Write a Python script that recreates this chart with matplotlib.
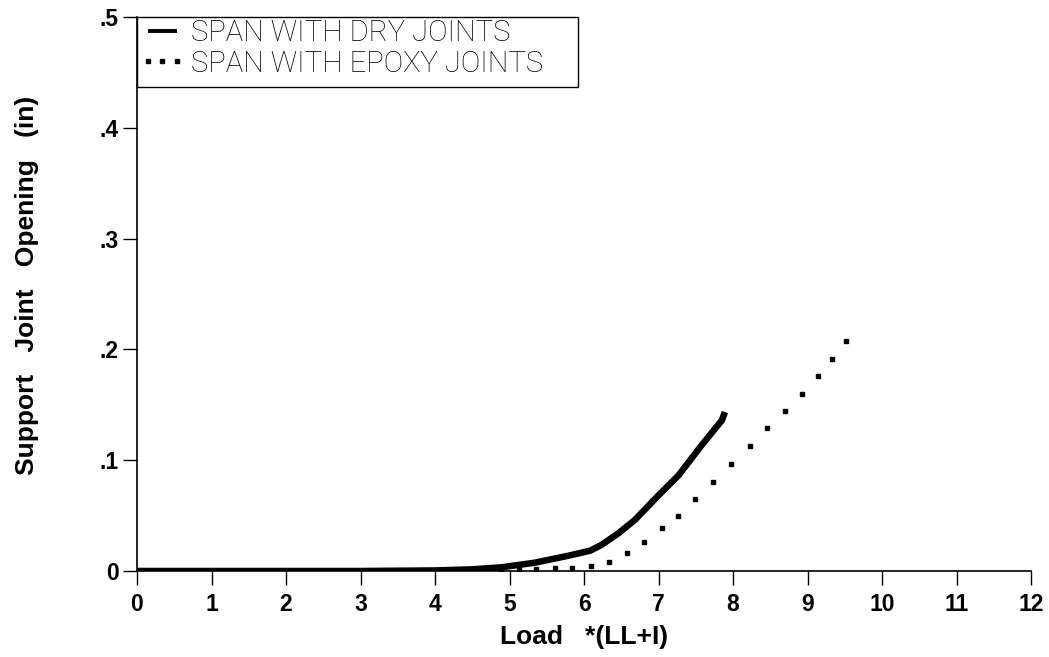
import matplotlib
matplotlib.use("Agg")
import matplotlib.pyplot as plt
from matplotlib.patches import Rectangle

# Span with dry joints (solid curve)
dry_load = [0.0, 1.0, 2.0, 3.0, 4.0, 4.5, 4.89, 5.34, 5.79, 6.08, 6.23, 6.46,
            6.68, 6.98, 7.27, 7.56, 7.74, 7.85, 7.89]
dry_open = [0.0, 0.0, 0.0, 0.0, 0.0005, 0.0015, 0.0033, 0.0075, 0.0138, 0.0183,
            0.0234, 0.034, 0.046, 0.067, 0.0865, 0.112, 0.127, 0.136, 0.1435]

# Span with epoxy joints (dotted markers)
epoxy_load = [4.88, 5.12, 5.36, 5.61, 5.84, 6.09, 6.33, 6.57, 6.81, 7.05, 7.26,
              7.49, 7.73, 7.97, 8.22, 8.46, 8.69, 8.92, 9.14, 9.33, 9.51]
epoxy_open = [0.0005, 0.001, 0.002, 0.0024, 0.0024, 0.0045, 0.0084, 0.016, 0.026,
              0.0385, 0.050, 0.0646, 0.0805, 0.0967, 0.1126, 0.1286, 0.144, 0.160,
              0.1757, 0.191, 0.2075]

x_ticks = [0, 1, 2, 3, 4, 5, 6, 7, 8, 9, 10, 11, 12]
y_ticks = [0, 0.1, 0.2, 0.3, 0.4, 0.5]
y_tick_labels = ["0", ".1", ".2", ".3", ".4", ".5"]

fig = plt.figure(figsize=(10.49, 6.57), dpi=100)
ax = fig.add_axes([0.1306, 0.1309, 0.8524, 0.8433])

ax.plot(dry_load, dry_open, color="black", linewidth=4.7, solid_capstyle="butt",
        label="SPAN WITH DRY JOINTS")
ax.plot(epoxy_load, epoxy_open, linestyle="none", marker="s", markersize=3.2,
        color="black", label="SPAN WITH EPOXY JOINTS")

ax.set_xlim(0, 12)
ax.set_ylim(0, 0.5)
ax.set_xticks(x_ticks)
ax.set_yticks(y_ticks)
ax.set_yticklabels(y_tick_labels)

for s in ["top", "right"]:
    ax.spines[s].set_visible(False)
for s in ["left", "bottom"]:
    ax.spines[s].set_linewidth(1.2)

ax.tick_params(axis="both", direction="out", length=10, width=1, labelsize=16.5)
ax.tick_params(axis="x", pad=6)
ax.tick_params(axis="y", pad=3)
for lab in ax.get_xticklabels() + ax.get_yticklabels():
    lab.set_fontweight("bold")
    lab.set_family("Liberation Sans")

ax.set_xlabel("Load   *(LL+I)", fontsize=19, fontweight="bold",
              family="Liberation Sans", va="top")
ax.xaxis.set_label_coords(0.5, -0.097)
ax.set_ylabel("Support   Joint   Opening   (in)", fontsize=19, fontweight="bold",
              family="Liberation Sans")
ax.yaxis.set_label_coords(-0.11, 0.515)

# legend box
ax.add_patch(Rectangle((0, 0.874), 0.493, 0.126, transform=ax.transAxes,
                       facecolor="white", edgecolor="black", linewidth=1.0,
                       clip_on=False, zorder=4))
leg = ax.legend(loc="upper left", bbox_to_anchor=(0.002, 0.996), borderaxespad=0,
                frameon=False, numpoints=3, handlelength=1.6, handletextpad=0.2,
                labelspacing=0.085, borderpad=0,
                prop={"family": "Roboto", "weight": "light", "size": 21})
leg.set_zorder(5)
leg.legend_handles[0].set_linewidth(2.8)
leg.legend_handles[1].set_markersize(3.2)

fig.savefig("out.png", dpi=100)
